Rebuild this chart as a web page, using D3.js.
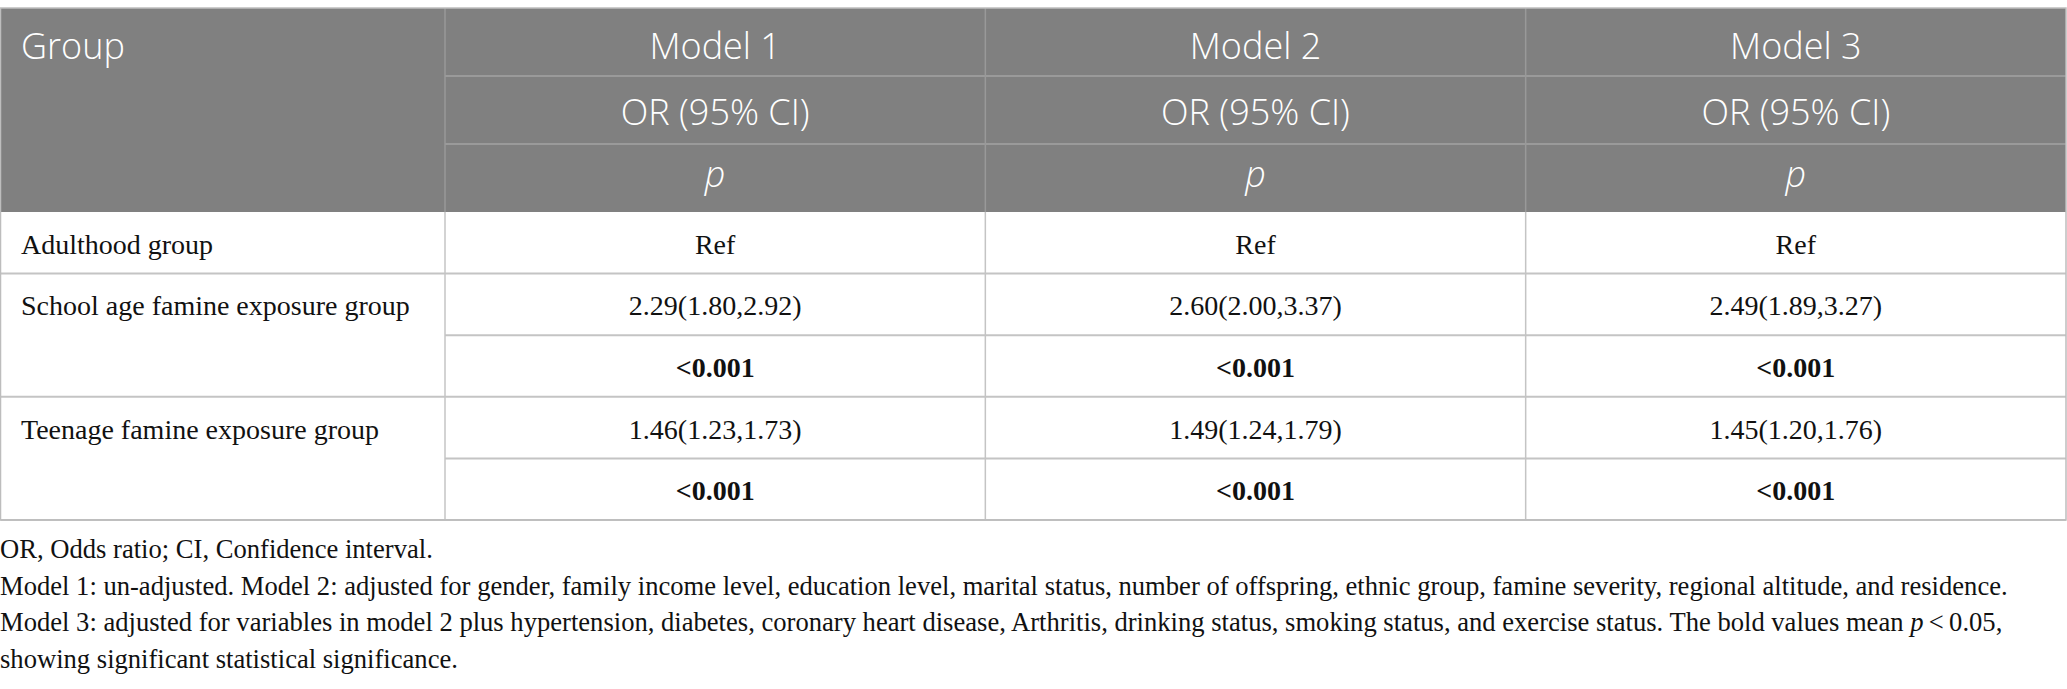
<!DOCTYPE html>
<html>
<head>
<meta charset="utf-8">
<script src="https://cdn.jsdelivr.net/npm/d3@7"></script>
<style>
  html, body { margin: 0; padding: 0; background: #fff; }
  svg { display: block; }
</style>
</head>
<body>
<div id="table"></div>
<script>
// table content
var groups = ["Adulthood group", "School age famine exposure group", "Teenage famine exposure group"];
var models = ["Model 1", "Model 2", "Model 3"];
var headerSub = ["OR (95% CI)", "p"];
var orValues = [
  ["Ref", "Ref", "Ref"],
  ["2.29(1.80,2.92)", "2.60(2.00,3.37)", "2.49(1.89,3.27)"],
  ["1.46(1.23,1.73)", "1.49(1.24,1.79)", "1.45(1.20,1.76)"]
];
var pValues = [
  null,
  ["<0.001", "<0.001", "<0.001"],
  ["<0.001", "<0.001", "<0.001"]
];
var notes = [
  "OR, Odds ratio; CI, Confidence interval.",
  "Model 1: un-adjusted. Model 2: adjusted for gender, family income level, education level, marital status, number of offspring, ethnic group, famine severity, regional altitude, and residence.",
  "Model 3: adjusted for variables in model 2 plus hypertension, diabetes, coronary heart disease, Arthritis, drinking status, smoking status, and exercise status. The bold values mean |p|\u2009<\u20090.05,",
  "showing significant statistical significance."
];

var W = 2067, H = 689;
var left = 0.5, right = 2066, tableTop = 8;
var groupW = 445;
var headH = 68;
var subH = 61.6;
var headBottom = tableTop + headH * 3;

var svg = d3.select("#table")
  .append("svg")
    .attr("width", W)
    .attr("height", H);

var x = d3.scaleBand()
    .domain(models)
    .range([groupW, right]);

// sub-rows in body: one per value line
var subRows = [];
groups.forEach(function(g, i) {
  subRows.push({group: i, kind: "or"});
  if (pValues[i]) subRows.push({group: i, kind: "p"});
});

var y = d3.scaleBand()
    .domain(d3.range(subRows.length))
    .range([headBottom, headBottom + subH * subRows.length]);

var tableBottom = headBottom + subH * subRows.length;

// header background
svg.append("rect")
    .attr("x", left)
    .attr("y", tableTop)
    .attr("width", right - left)
    .attr("height", headH * 3)
    .attr("fill", "#808080");

// header inner lines
var hy = d3.scaleLinear().domain([0, 3]).range([tableTop, headBottom]);
svg.append("g")
  .selectAll("line")
  .data([1, 2])
  .enter().append("line")
    .attr("x1", groupW)
    .attr("x2", right)
    .attr("y1", function(d) { return hy(d); })
    .attr("y2", function(d) { return hy(d); })
    .attr("stroke", "#a3a3a3")
    .attr("stroke-width", 1.5);

svg.append("g")
  .selectAll("line")
  .data(models)
  .enter().append("line")
    .attr("x1", function(d) { return x(d); })
    .attr("x2", function(d) { return x(d); })
    .attr("y1", tableTop)
    .attr("y2", headBottom)
    .attr("stroke", "#999")
    .attr("stroke-width", 1.5);

// header text
var headFont = "'Open Sans', sans-serif";
svg.append("text")
    .attr("x", 21)
    .attr("y", hy(0) + 51)
    .attr("fill", "#fff")
    .style("font-family", headFont)
    .style("font-weight", 300)
    .style("font-size", "36px")
    .text("Group");

var headG = svg.append("g");
models.forEach(function(m) {
  var cx = x(m) + x.bandwidth() / 2;
  headG.append("text")
      .attr("x", cx).attr("y", hy(0) + 51)
      .attr("text-anchor", "middle")
      .attr("fill", "#fff")
      .style("font-family", headFont).style("font-weight", 300).style("font-size", "36px")
      .text(m);
  headG.append("text")
      .attr("x", cx).attr("y", hy(1) + 49)
      .attr("text-anchor", "middle")
      .attr("fill", "#fff")
      .style("font-family", headFont).style("font-weight", 300).style("font-size", "36px")
      .text(headerSub[0]);
  headG.append("text")
      .attr("x", cx).attr("y", hy(2) + 43)
      .attr("text-anchor", "middle")
      .attr("fill", "#fff")
      .style("font-family", headFont).style("font-weight", 300).style("font-size", "36px")
      .style("font-style", "italic")
      .text(headerSub[1]);
});

// body grid
var lineColor = "#c4c4c4";
var grid = svg.append("g");
subRows.forEach(function(r, i) {
  var yy = y(i) + y.bandwidth();
  var next = subRows[i + 1];
  var full = !next || next.group !== r.group;
  grid.append("line")
      .attr("x1", full ? left : groupW)
      .attr("x2", right)
      .attr("y1", yy).attr("y2", yy)
      .attr("stroke", lineColor)
      .attr("stroke-width", 2);
});
models.forEach(function(m) {
  grid.append("line")
      .attr("x1", x(m)).attr("x2", x(m))
      .attr("y1", headBottom).attr("y2", tableBottom)
      .attr("stroke", lineColor)
      .attr("stroke-width", 1.5);
});
// outer border
svg.append("rect")
    .attr("x", left)
    .attr("y", tableTop)
    .attr("width", right - left)
    .attr("height", tableBottom - tableTop)
    .attr("fill", "none")
    .attr("stroke", "#bdbdbd")
    .attr("stroke-width", 1.5);

// body text
var bodyFont = "'Liberation Serif', 'Times New Roman', serif";
var body = svg.append("g")
    .style("font-family", bodyFont)
    .style("font-size", "28px")
    .attr("fill", "#111");

subRows.forEach(function(r, i) {
  var cy = y(i) + y.bandwidth() / 2 + 11;
  if (r.kind === "or") {
    body.append("text")
        .attr("x", 21).attr("y", cy)
        .text(groups[r.group]);
  }
  models.forEach(function(m, j) {
    var t = body.append("text")
        .attr("x", x(m) + x.bandwidth() / 2)
        .attr("y", cy)
        .attr("text-anchor", "middle");
    if (r.kind === "or") {
      t.text(orValues[r.group][j]);
    } else {
      t.style("font-weight", "bold").text(pValues[r.group][j]);
    }
  });
});

// footnotes
var noteG = svg.append("g")
    .style("font-family", bodyFont)
    .style("font-size", "26.6px")
    .attr("fill", "#111");

notes.forEach(function(n, i) {
  var t = noteG.append("text")
      .attr("x", 0)
      .attr("y", 558 + i * 36.7);
  n.split("|").forEach(function(part, k) {
    t.append("tspan")
        .style("font-style", k % 2 === 1 ? "italic" : "normal")
        .text(part);
  });
});
</script>
</body>
</html>
